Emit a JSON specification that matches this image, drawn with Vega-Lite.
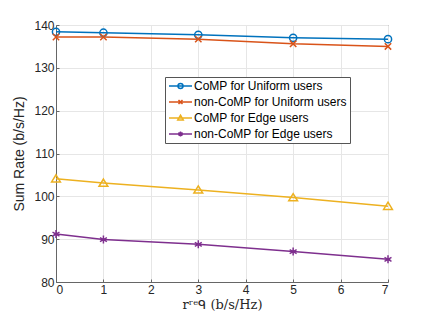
{
  "$schema": "https://vega.github.io/schema/vega-lite/v6.json",
  "width": 332,
  "height": 257,
  "autosize": {"type": "none"},
  "padding": {"left": 56, "top": 25, "right": 41, "bottom": 42},
  "background": "white",
  "config": {
    "view": {"stroke": "#666666", "strokeWidth": 1},
    "axis": {
      "labelFont": "Liberation Sans",
      "labelFontSize": 12,
      "labelColor": "#262626",
      "titleColor": "#262626",
      "domainColor": "#666666",
      "tickColor": "#666666",
      "tickSize": -3,
      "gridColor": "#e6e6e6",
      "gridWidth": 1,
      "labelPadding": 5
    }
  },
  "data": {
    "values": [
      {"x": 0, "rate": 138.4, "series": "CoMP for Uniform users"},
      {"x": 1, "rate": 138.2, "series": "CoMP for Uniform users"},
      {"x": 3, "rate": 137.7, "series": "CoMP for Uniform users"},
      {"x": 5, "rate": 137.0, "series": "CoMP for Uniform users"},
      {"x": 7, "rate": 136.7, "series": "CoMP for Uniform users"},
      {"x": 0, "rate": 137.2, "series": "non-CoMP for Uniform users"},
      {"x": 1, "rate": 137.2, "series": "non-CoMP for Uniform users"},
      {"x": 3, "rate": 136.7, "series": "non-CoMP for Uniform users"},
      {"x": 5, "rate": 135.6, "series": "non-CoMP for Uniform users"},
      {"x": 7, "rate": 135.0, "series": "non-CoMP for Uniform users"},
      {"x": 0, "rate": 104.1, "series": "CoMP for Edge users"},
      {"x": 1, "rate": 103.1, "series": "CoMP for Edge users"},
      {"x": 3, "rate": 101.5, "series": "CoMP for Edge users"},
      {"x": 5, "rate": 99.7, "series": "CoMP for Edge users"},
      {"x": 7, "rate": 97.7, "series": "CoMP for Edge users"},
      {"x": 0, "rate": 91.2, "series": "non-CoMP for Edge users"},
      {"x": 1, "rate": 89.9, "series": "non-CoMP for Edge users"},
      {"x": 3, "rate": 88.8, "series": "non-CoMP for Edge users"},
      {"x": 5, "rate": 87.1, "series": "non-CoMP for Edge users"},
      {"x": 7, "rate": 85.3, "series": "non-CoMP for Edge users"}
    ]
  },
  "encoding": {
    "x": {
      "field": "x", "type": "quantitative",
      "scale": {"domain": [0, 7], "nice": false},
      "axis": {"values": [0,1,2,3,4,5,6,7], "title": "rʳᵉᑫ (b/s/Hz)", "titleFont": "DejaVu Serif", "titleFontSize": 13, "titleFontWeight": "normal", "titlePadding": 3}
    },
    "y": {
      "field": "rate", "type": "quantitative",
      "scale": {"domain": [80, 140], "nice": false, "zero": false},
      "axis": {"values": [80,90,100,110,120,130,140], "title": "Sum Rate (b/s/Hz)", "titleFont": "Liberation Sans", "titleFontSize": 14, "titleFontWeight": "normal", "titlePadding": 7}
    }
  },
  "layer": [
    {
      "mark": {"type": "line", "strokeWidth": 1.5},
      "encoding": {
        "stroke": {
          "field": "series", "type": "nominal",
          "scale": {
            "domain": ["CoMP for Uniform users", "non-CoMP for Uniform users", "CoMP for Edge users", "non-CoMP for Edge users"],
            "range": ["#0072BD", "#D95319", "#EDB120", "#7E2F8E"]
          },
          "legend": null
        }
      }
    },
    {
      "mark": {"type": "point", "filled": false, "size": 64, "strokeWidth": 1.5, "opacity": 1},
      "encoding": {
        "stroke": {
          "field": "series", "type": "nominal",
          "scale": {
            "domain": ["CoMP for Uniform users", "non-CoMP for Uniform users", "CoMP for Edge users", "non-CoMP for Edge users"],
            "range": ["#0072BD", "#D95319", "#EDB120", "#7E2F8E"]
          },
          "legend": null
        },
        "shape": {
          "field": "series", "type": "nominal",
          "scale": {
            "domain": ["CoMP for Uniform users", "non-CoMP for Uniform users", "CoMP for Edge users", "non-CoMP for Edge users"],
            "range": [
              "M-0.9,0A0.9,0.9 0 1,1 0.9,0A0.9,0.9 0 1,1 -0.9,0Z",
              "M-0.8,-0.8L0.8,0.8M-0.8,0.8L0.8,-0.8",
              "M0,-1L1.1,0.8L-1.1,0.8Z",
              "M0,-1L0,1M-0.87,-0.5L0.87,0.5M-0.87,0.5L0.87,-0.5M-0.6,0L0.6,0"
            ]
          },
          "legend": null
        }
      }
    },
    {
      "transform": [{"filter": "datum.x < -100"}],
      "mark": {"type": "point", "filled": false, "size": 100, "strokeWidth": 1.5, "opacity": 1},
      "encoding": {
        "stroke": {
          "field": "series", "type": "nominal",
          "scale": {
            "domain": ["CoMP for Uniform users", "non-CoMP for Uniform users", "CoMP for Edge users", "non-CoMP for Edge users"],
            "range": ["#0072BD", "#D95319", "#EDB120", "#7E2F8E"]
          },
          "legend": {
            "title": null,
            "orient": "none",
            "legendX": 109,
            "legendY": 52,
            "fillColor": "white",
            "strokeColor": "#555555",
            "padding": 3,
            "labelFont": "Liberation Sans",
            "labelFontSize": 12,
            "labelColor": "#000000",
            "labelOffset": 14,
            "labelLimit": 300,
            "symbolSize": 100,
            "symbolStrokeWidth": 1.5,
            "rowPadding": 4
          }
        },
        "shape": {
          "field": "series", "type": "nominal",
          "scale": {
            "domain": ["CoMP for Uniform users", "non-CoMP for Uniform users", "CoMP for Edge users", "non-CoMP for Edge users"],
            "range": [
              "M-1,0L3.6,0M0.8,0A0.5,0.5 0 1,1 1.8,0A0.5,0.5 0 1,1 0.8,0",
              "M-1,0L3.6,0M0.9,-0.4L1.7,0.4M0.9,0.4L1.7,-0.4",
              "M-1,0L3.6,0M1.3,-0.55L1.85,0.4L0.75,0.4Z",
              "M-1,0L3.6,0M1.3,-0.5L1.3,0.5M0.87,-0.25L1.73,0.25M0.87,0.25L1.73,-0.25"
            ]
          },
          "legend": {
            "title": null,
            "orient": "none",
            "legendX": 109,
            "legendY": 52,
            "fillColor": "white",
            "strokeColor": "#555555",
            "padding": 3,
            "labelFont": "Liberation Sans",
            "labelFontSize": 12,
            "labelColor": "#000000",
            "labelOffset": 14,
            "labelLimit": 300,
            "symbolSize": 100,
            "symbolStrokeWidth": 1.5,
            "rowPadding": 4
          }
        }
      }
    }
  ],
  "resolve": {"scale": {"shape": "independent", "stroke": "independent"}}
}
